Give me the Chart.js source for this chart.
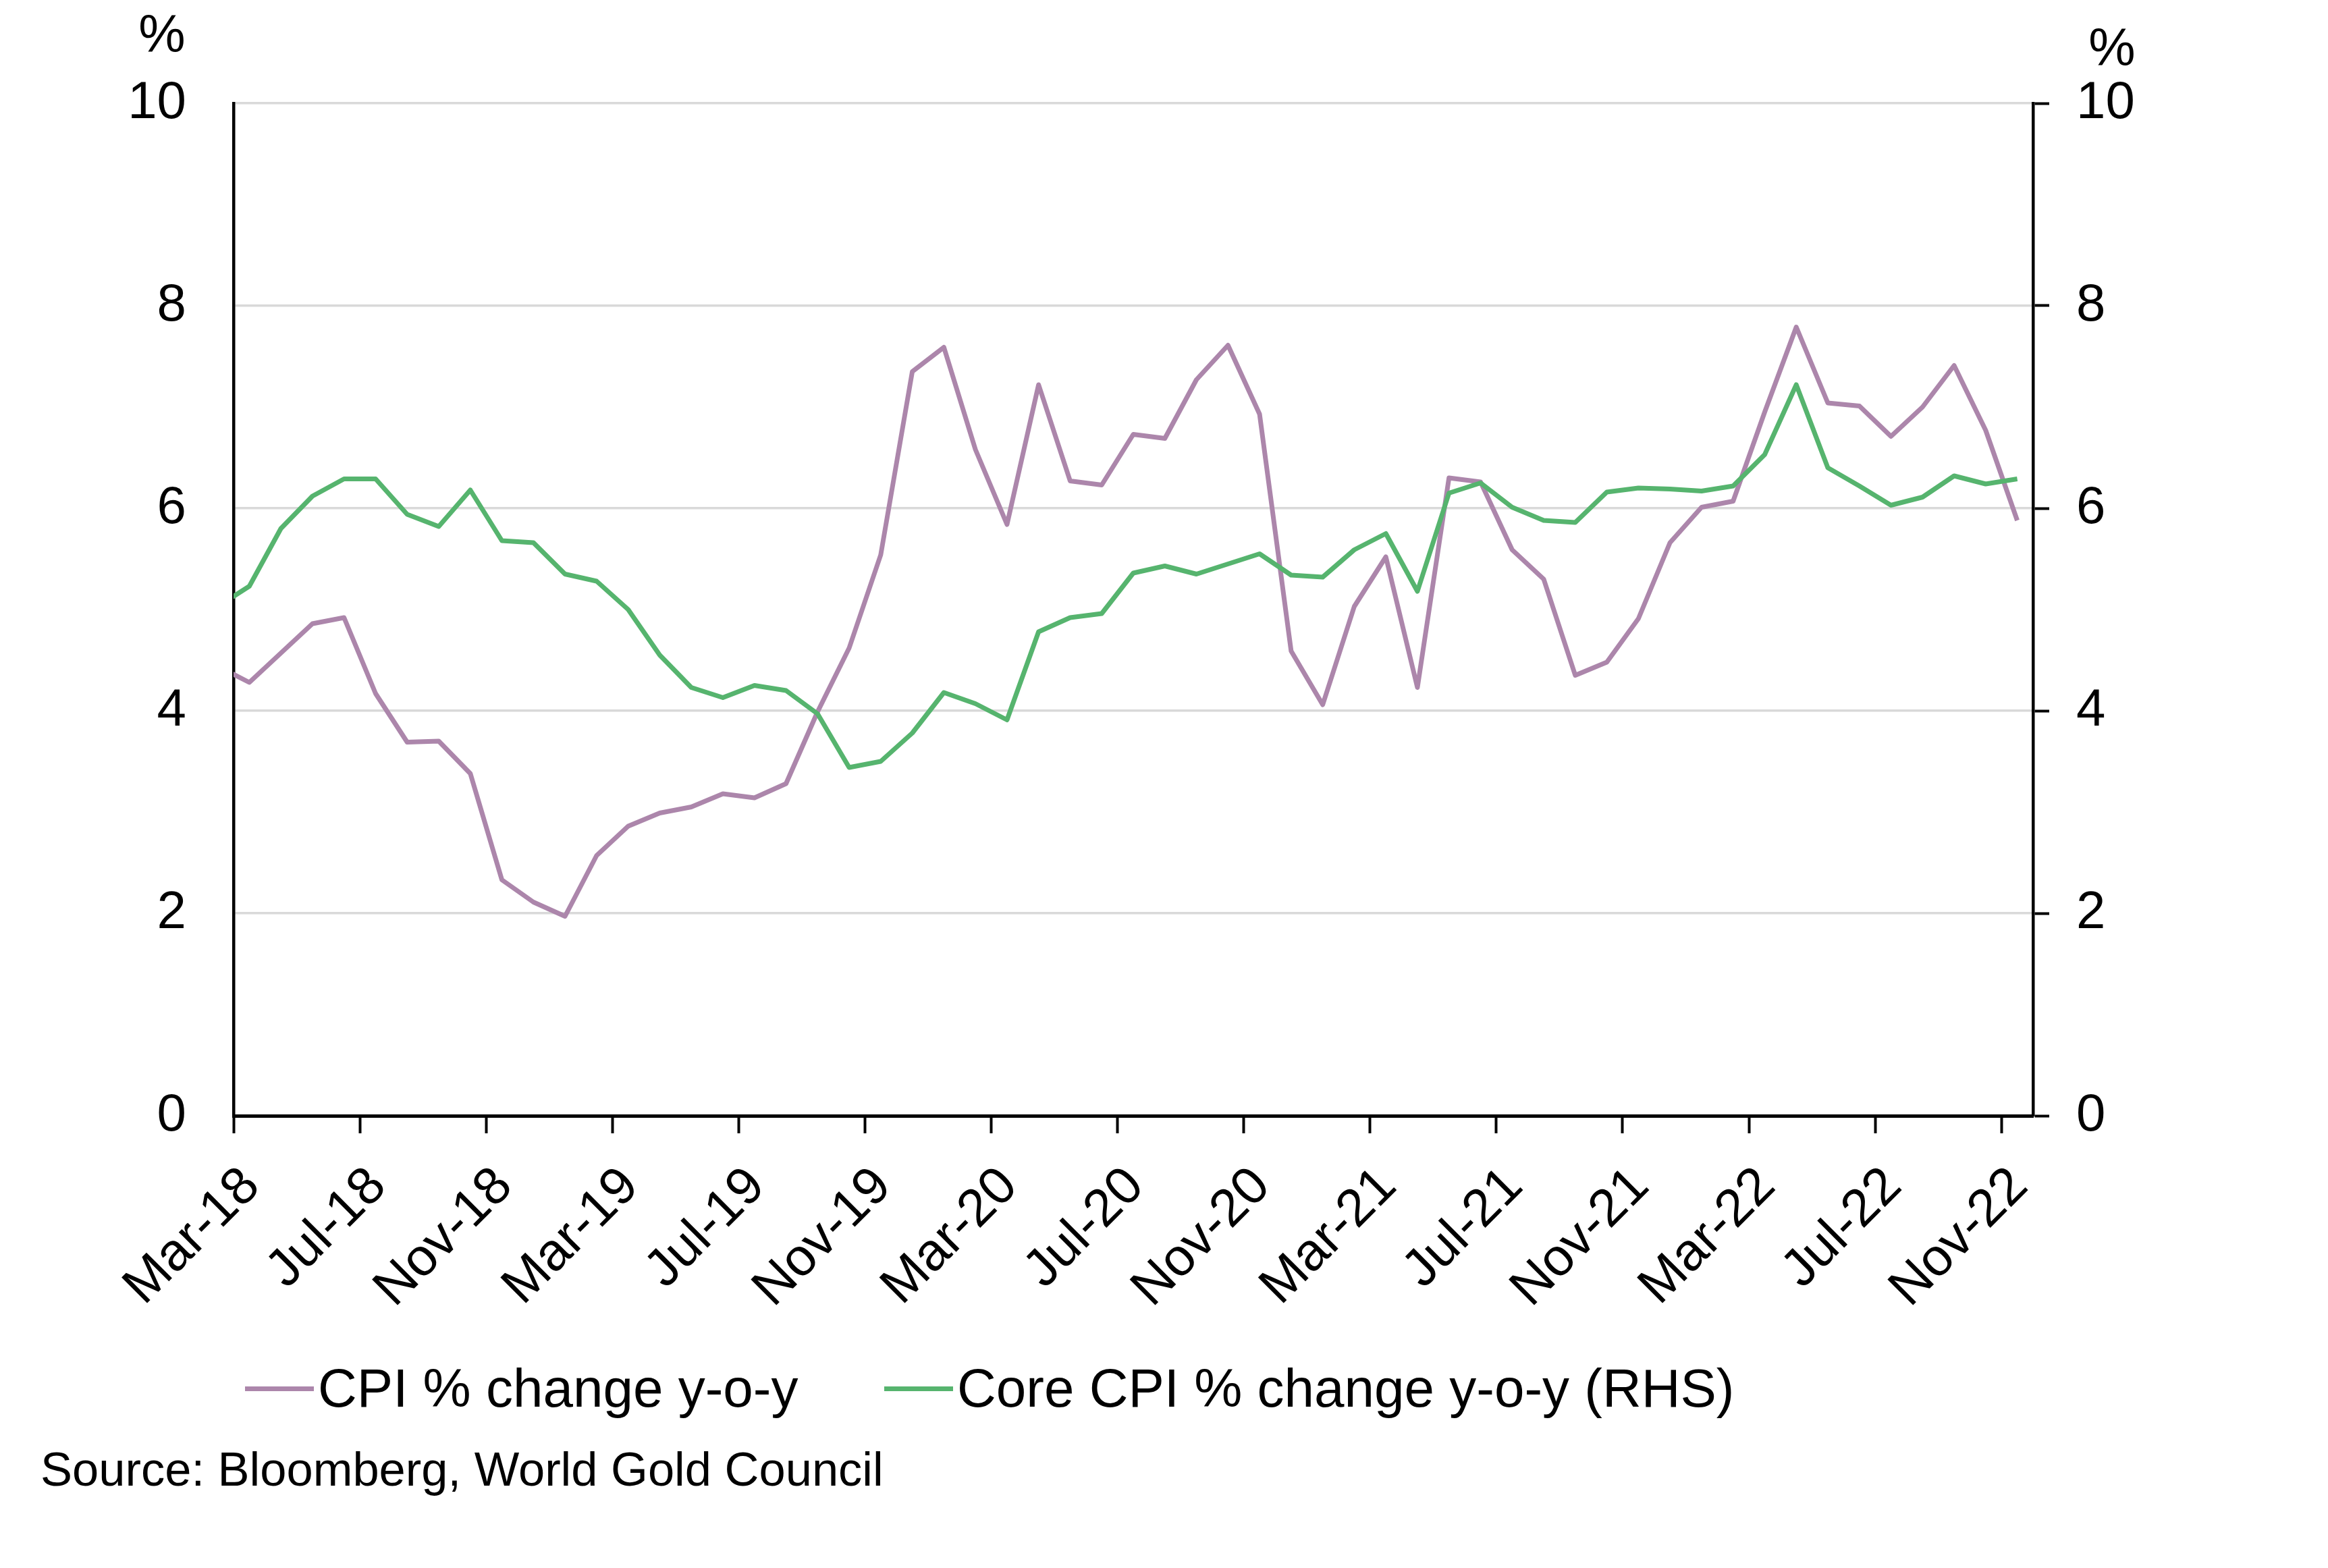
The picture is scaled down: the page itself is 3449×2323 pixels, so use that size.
<!DOCTYPE html>
<html>
<head>
<meta charset="utf-8">
<title>CPI vs Core CPI</title>
<script src="https://cdn.jsdelivr.net/npm/chart.js@4.4.1/dist/chart.umd.min.js"></script>
<style>
  html, body { margin: 0; padding: 0; background: #fff; }
  #wrap { position: relative; width: 3449px; height: 2323px; font-family: "Liberation Sans", Arial, sans-serif; color: #000; overflow: hidden; }
  #wrap canvas { position: absolute; left: 0; top: 0; }
  .unit { position: absolute; font-size: 78px; line-height: 78px; transform: translate(-50%, -50%); }
  .item { position: absolute; top: 2017px; height: 80px; display: flex; align-items: center; font-size: 80px; white-space: nowrap; }
  .swatch { display: inline-block; width: 102px; height: 7px; margin-right: 6px; }
  .source { position: absolute; left: 60px; top: 2137px; font-size: 70.5px; line-height: 80px; white-space: nowrap; }
</style>
</head>
<body>
<div id="wrap">
  <canvas id="chart" width="3449" height="2323"></canvas>
  <div class="unit" style="left:240px; top:50px;">%</div>
  <div class="unit" style="left:3129px; top:70px;">%</div>
  <div class="item" style="left:363px;"><span class="swatch" style="background:#ac86ab;"></span>CPI % change y-o-y</div>
  <div class="item" style="left:1310px;"><span class="swatch" style="background:#56b46e;"></span>Core CPI % change y-o-y (RHS)</div>
  <div class="source">Source: Bloomberg, World Gold Council</div>
</div>
<script>
document.addEventListener("DOMContentLoaded", () => {

  // monthly observations (Feb-18 sits just left of the axis and is clipped)
  const months = [
    "Feb-18","Mar-18","Apr-18","May-18","Jun-18","Jul-18","Aug-18","Sep-18","Oct-18","Nov-18","Dec-18",
    "Jan-19","Feb-19","Mar-19","Apr-19","May-19","Jun-19","Jul-19","Aug-19","Sep-19","Oct-19","Nov-19","Dec-19",
    "Jan-20","Feb-20","Mar-20","Apr-20","May-20","Jun-20","Jul-20","Aug-20","Sep-20","Oct-20","Nov-20","Dec-20",
    "Jan-21","Feb-21","Mar-21","Apr-21","May-21","Jun-21","Jul-21","Aug-21","Sep-21","Oct-21","Nov-21","Dec-21",
    "Jan-22","Feb-22","Mar-22","Apr-22","May-22","Jun-22","Jul-22","Aug-22","Sep-22","Oct-22","Nov-22"
  ];

  const cpi = [
    4.44, 4.28, 4.57, 4.86, 4.92, 4.17, 3.69, 3.70, 3.38, 2.33, 2.11,
    1.97, 2.57, 2.86, 2.99, 3.05, 3.18, 3.14, 3.28, 3.99, 4.62, 5.54, 7.35,
    7.59, 6.58, 5.84, 7.22, 6.27, 6.23, 6.73, 6.69, 7.27, 7.61, 6.93, 4.59,
    4.06, 5.03, 5.52, 4.23, 6.30, 6.26, 5.59, 5.30, 4.35, 4.48, 4.91, 5.66,
    6.01, 6.07, 6.95, 7.79, 7.04, 7.01, 6.71, 7.00, 7.41, 6.77, 5.88
  ];

  const coreCpi = [
    5.03, 5.23, 5.80, 6.12, 6.29, 6.29, 5.94, 5.82, 6.18, 5.68, 5.66,
    5.35, 5.28, 5.00, 4.55, 4.23, 4.13, 4.25, 4.20, 3.97, 3.44, 3.50, 3.78,
    4.18, 4.07, 3.91, 4.78, 4.92, 4.96, 5.36, 5.43, 5.35, 5.45, 5.55, 5.34,
    5.32, 5.59, 5.75, 5.18, 6.15, 6.25, 6.01, 5.88, 5.86, 6.16, 6.20, 6.19,
    6.17, 6.22, 6.53, 7.22, 6.40, 6.22, 6.03, 6.11, 6.32, 6.24, 6.29
  ];

  const tickLabels = ["Mar-18","Jul-18","Nov-18","Mar-19","Jul-19","Nov-19","Mar-20",
                      "Jul-20","Nov-20","Mar-21","Jul-21","Nov-21","Mar-22","Jul-22","Nov-22"];

  const yMin = 0, yMax = 10, yStep = 2;

  // axis counts months from the start of Mar-18, each point sits mid-month
  const start = months.indexOf(tickLabels[0]);
  const toPoints = (vals) => vals.map((v, i) => ({ x: i - start + 0.5, y: v }));

  const tickFont = { family: "Liberation Sans", size: 78 };

  const ctx = document.getElementById("chart").getContext("2d");
  new Chart(ctx, {
    type: "line",
    data: {
      datasets: [
        {
          label: "CPI % change y-o-y",
          data: toPoints(cpi),
          borderColor: "#ac86ab",
          borderWidth: 7,
          pointRadius: 0,
          tension: 0,
          borderJoinStyle: "round",
          clip: 0,
          yAxisID: "y",
          order: 1
        },
        {
          label: "Core CPI % change y-o-y (RHS)",
          data: toPoints(coreCpi),
          borderColor: "#56b46e",
          borderWidth: 7,
          pointRadius: 0,
          tension: 0,
          borderJoinStyle: "round",
          clip: 0,
          yAxisID: "y2",
          order: 0
        }
      ]
    },
    options: {
      responsive: false,
      devicePixelRatio: 1,
      animation: false,
      layout: { padding: { left: 0, right: 0, top: 153, bottom: 370 } },
      plugins: {
        legend: { display: false },
        tooltip: { enabled: false }
      },
      scales: {
        x: {
          type: "linear",
          min: 0,
          max: months.length - start,
          afterBuildTicks: (scale) => {
            scale.ticks = tickLabels.map(l => ({ value: months.indexOf(l) - start }));
          },
          afterFit: (scale) => { scale.height = 300; },
          ticks: {
            autoSkip: false,
            maxRotation: 45,
            minRotation: 45,
            padding: 33,
            labelOffset: 27,
            color: "#000",
            font: tickFont,
            callback: (value, index) => tickLabels[index]
          },
          grid: {
            drawOnChartArea: false,
            drawTicks: true,
            tickLength: 26,
            tickWidth: 4,
            tickColor: "#000"
          },
          border: { display: true, color: "#000", width: 5 }
        },
        y: {
          position: "left",
          min: yMin,
          max: yMax,
          afterFit: (scale) => { scale.width = 346; },
          ticks: { stepSize: yStep, padding: 70, color: "#000", font: tickFont },
          grid: { color: "#d9d9d9", lineWidth: 3.5, drawTicks: false },
          border: { display: true, color: "#000", width: 4.5 }
        },
        y2: {
          position: "right",
          min: yMin,
          max: yMax,
          afterFit: (scale) => { scale.width = 437; },
          ticks: { stepSize: yStep, padding: 40, color: "#000", font: tickFont },
          grid: {
            drawOnChartArea: false,
            drawTicks: true,
            tickLength: 24,
            tickWidth: 4,
            tickColor: "#000"
          },
          border: { display: true, color: "#000", width: 4.5 }
        }
      }
    }
  });

});
</script>
</body>
</html>
